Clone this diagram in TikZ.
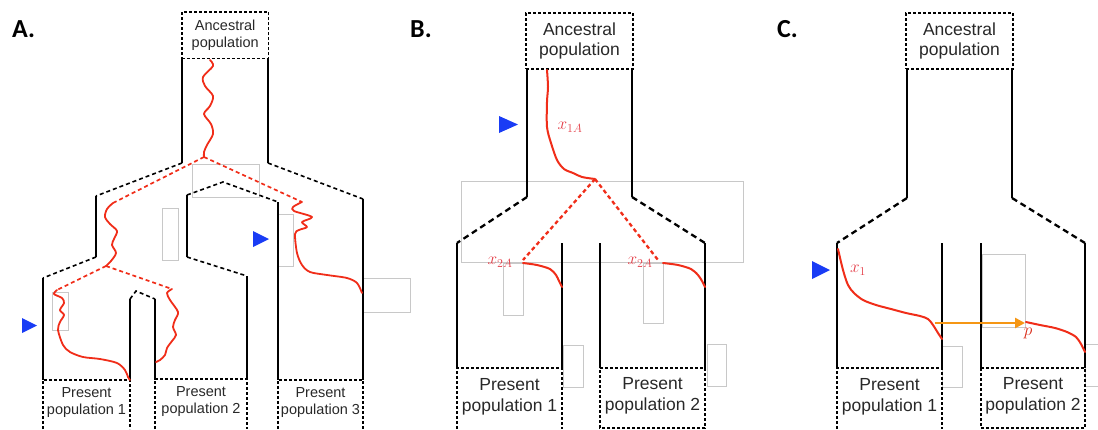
\documentclass[tikz,border=0pt]{standalone}
\usepackage{fontspec}
\setmainfont{Liberation Sans}
\newfontfamily\panelfont{Carlito}
\usetikzlibrary{arrows.meta}
\definecolor{lineage}{RGB}{240,45,25}
\definecolor{lablred}{RGB}{228,62,72}
\definecolor{marker}{RGB}{25,60,245}
\definecolor{flow}{RGB}{245,150,20}
\definecolor{guide}{RGB}{200,200,200}
\definecolor{inktext}{RGB}{40,40,40}

\begin{document}
\begin{tikzpicture}[x=1pt,y=-1pt,
  wallA/.style={line width=1.4pt},
  wall/.style={line width=2.3pt},
  splitA/.style={line width=1.6pt, dash pattern=on 4pt off 3pt},
  split/.style={line width=2.3pt, dash pattern=on 6pt off 4pt},
  boxedge/.style={line width=1.2pt, dash pattern=on 3pt off 2pt},
  lin/.style={draw=lineage, line width=2pt, line cap=round, line join=round},
  linA/.style={draw=lineage, line width=1.8pt, line cap=round, line join=round},
  genA/.style={draw=lineage, line width=1.7pt, dash pattern=on 4pt off 3pt},
  gen/.style={draw=lineage, line width=2.3pt, dash pattern=on 4pt off 3pt},
  guidebox/.style={draw=guide, line width=0.7pt},
  panel/.style={font=\panelfont\bfseries\fontsize{26}{28}\selectfont, anchor=base west, inner sep=0pt},
  ancA/.style={draw, line width=1.2pt, dash pattern=on 3pt off 2pt, align=center, inner sep=0pt,
    minimum width=86.5pt, minimum height=46.7pt, text=inktext, font=\fontsize{14.5}{17}\selectfont},
  anc/.style={draw, line width=1.4pt, dash pattern=on 3pt off 2pt, align=center, inner sep=0pt,
    minimum width=107pt, minimum height=56pt, text=inktext, font=\fontsize{17.5}{20.5}\selectfont},
  popA/.style={align=center, inner sep=0pt, text=inktext, font=\fontsize{14.5}{17}\selectfont},
  pop/.style={align=center, inner sep=0pt, text=inktext, font=\fontsize{17.5}{21}\selectfont},
  mlab/.style={text=lablred, inner sep=0pt, font=\fontsize{18}{20}\selectfont},
  pointer/.style={fill=marker}
]
\useasboundingbox (0,0) rectangle (1098,429);

% ---------------- Panel A: three populations ----------------
\node[panel] (labA) at (12,37) {A.};
\node[ancA] (ancApop) at (225.2,35.4) {Ancestral\\population};

% light guide boxes
\draw[guidebox] (192,164) rectangle (259,197);
\draw[guidebox] (162,208) rectangle (178,260);
\draw[guidebox] (278,214) rectangle (293,266);
\draw[guidebox] (363,278) rectangle (410,312);
\draw[guidebox] (52,292) rectangle (68,330);

% ancestral walls and first split
\draw[wallA] (182,58.7) -- (182,163);
\draw[wallA] (268,58.7) -- (268,163);
\draw[splitA] (182,163) -- (96,196);
\draw[splitA] (268,163) -- (363,199);
% ancestor of populations 1 and 2
\draw[wallA] (96,196) -- (96,257);
\draw[wallA] (187,195) -- (187,257);
\draw[splitA] (187,195) -- (223,182) -- (278,202);
\draw[splitA] (96,257) -- (43,278);
\draw[splitA] (187,257) -- (247,276);
% populations 1 and 2
\draw[wallA] (43,278) -- (43,380);
\draw[wallA] (247,276) -- (247,380);
\draw[wallA] (130,380) -- (130,299);
\draw[wallA] (155,380) -- (155,299);
\draw[splitA] (130,299) -- (136,291) -- (155,299);
% population 3
\draw[wallA] (278,202) -- (278,380);
\draw[wallA] (363,199) -- (363,380);

% present populations
\draw[boxedge] (43,429) -- (43,380) -- (130,380) -- (130,429);
\draw[boxedge] (155,429) -- (155,379) -- (247,379) -- (247,429);
\draw[boxedge] (278,429) -- (278,380) -- (363,380) -- (363,429);
\node[popA] (pA1) at (86.5,403) {Present\\population 1};
\node[popA] (pA2) at (201,402) {Present\\population 2};
\node[popA] (pA3) at (320.5,403) {Present\\population 3};

% lineages
\draw[linA] plot[smooth] coordinates {(210,60) (213,66) (203,77) (205,86) (213,96) (210,106) (204,114) (211,124) (213,134) (207,145) (204,152) (204,157)};
\draw[genA] (204,157) -- (113,203);
\draw[genA] (204,157) -- (302,202);
\draw[linA] plot[smooth] coordinates {(113,203) (107,209) (105,217) (110,224) (117,231) (114,239) (112,245) (116,253) (111,261) (106,266)};
\draw[genA] (106,266) -- (57,290);
\draw[genA] (106,266) -- (172,289);
\draw[linA] plot[smooth] coordinates {(57,290) (54,294) (62,298) (64,303) (60,310) (64,315) (60,322) (58,330) (63,345) (70,352) (83,357) (100,359) (117,363) (125,370) (128,377) (130,380)};
\draw[linA] plot[smooth] coordinates {(172,289) (167,293) (170,300) (178,312) (175,320) (173,327) (176,335) (172,341) (167,348) (165,355) (160,360) (156,362)};
\draw[linA] plot[smooth] coordinates {(302,202) (293,207) (294,211) (312,217) (302,222) (307,227) (299,230) (295,234) (297,253) (302,265) (310,272) (327,275) (347,278) (357,283) (362,293)};

% sampling markers
\path[pointer] (22,318) -- (37,325.5) -- (22,333) -- cycle;
\path[pointer] (253,231) -- (269,239) -- (253,247) -- cycle;

% ---------------- Panel B: two populations ----------------
\node[panel] (labB) at (410,37) {B.};
\node[anc] (ancBpop) at (579.5,41) {Ancestral\\population};

\draw[guidebox] (461,181) rectangle (743,262);
\draw[guidebox] (503,263) rectangle (523,315);
\draw[guidebox] (643,263) rectangle (663,323);
\draw[guidebox] (563,345) rectangle (583,387);
\draw[guidebox] (707,344) rectangle (726,386);

\draw[wall] (527,69) -- (527,197);
\draw[wall] (632,69) -- (632,197);
\draw[split] (527,197) -- (457,243);
\draw[split] (632,197) -- (705,243);
\draw[wall] (457,243) -- (457,368);
\draw[wall] (562,243) -- (562,368);
\draw[wall] (600,243) -- (600,368);
\draw[wall] (705,243) -- (705,368);

\draw[boxedge] (457,429) -- (457,368) -- (562,368) -- (562,429);
\draw[boxedge] (600,368) -- (705,368) -- (705,428) -- (600,428) -- cycle;
\node[pop] (pB1) at (509.5,397) {Present\\population 1};
\node[pop] (pB2) at (652.5,396) {Present\\population 2};

\draw[lin] plot[smooth] coordinates {(547,70) (548,87) (547,102) (547,127) (551,143) (557,160) (564,169) (573,173) (582,177) (595,179)};
\draw[gen] (595,179) -- (523,260);
\draw[gen] (595,179) -- (658,260);
\draw[lin] plot[smooth] coordinates {(523,263) (537,265) (550,269) (556,275) (559,281) (562,287)};
\draw[lin] plot[smooth] coordinates {(663,263) (678,265) (691,269) (698,275) (702,281) (705,287)};
\node[mlab] (x1A) at (570,127) {$x_{1A}$};
\node[mlab] (x2Aa) at (500,262) {$x_{2A}$};
\node[mlab] (x2Ab) at (640,262) {$x_{2A}$};

\path[pointer] (499,116) -- (518,124.5) -- (499,133) -- cycle;

% ---------------- Panel C: migration ----------------
\node[panel] (labC) at (777,37) {C.};
\node[anc] (ancCpop) at (959.5,41) {Ancestral\\population};

\draw[guidebox] (982,254) rectangle (1025,327);
\draw[guidebox] (942,346) rectangle (962,387);
\draw[guidebox] (1085,344) rectangle (1105,386);

\draw[wall] (907,69) -- (907,198);
\draw[wall] (1012,69) -- (1012,198);
\draw[split] (907,198) -- (837,243);
\draw[split] (1012,198) -- (1085,243);
\draw[wall] (837,243) -- (837,368);
\draw[wall] (942,243) -- (942,368);
\draw[wall] (981,243) -- (981,368);
\draw[wall] (1085,243) -- (1085,368);

\draw[boxedge] (837,429) -- (837,368) -- (942,368) -- (942,429);
\draw[boxedge] (981,368) -- (1085,368) -- (1085,428) -- (981,428) -- cycle;
\node[pop] (pC1) at (889.5,397) {Present\\population 1};
\node[pop] (pC2) at (1033,396) {Present\\population 2};

\draw[lin] plot[smooth] coordinates {(838,249) (843,270) (848,285) (854,293) (863,300) (876,305) (891,309) (906,313) (920,316) (928,319) (933,325) (938,333) (942,339)};
\draw[lin] plot[smooth] coordinates {(1026,322) (1040,325) (1055,328) (1067,332) (1076,337) (1081,344) (1085,352)};
\coordinate (migfrom) at (935,323);
\coordinate (migto) at (1025,323);
\draw[flow, line width=2.6pt, -{Triangle[length=10pt,width=10pt]}] (migfrom) -- (migto);
\node[mlab] (x1) at (858,270) {$x_1$};
\node[mlab, text=lineage!90!black] (pl) at (1028,333) {$p$};

\path[pointer] (812,261) -- (830,270) -- (812,279) -- cycle;
\end{tikzpicture}
\end{document}
